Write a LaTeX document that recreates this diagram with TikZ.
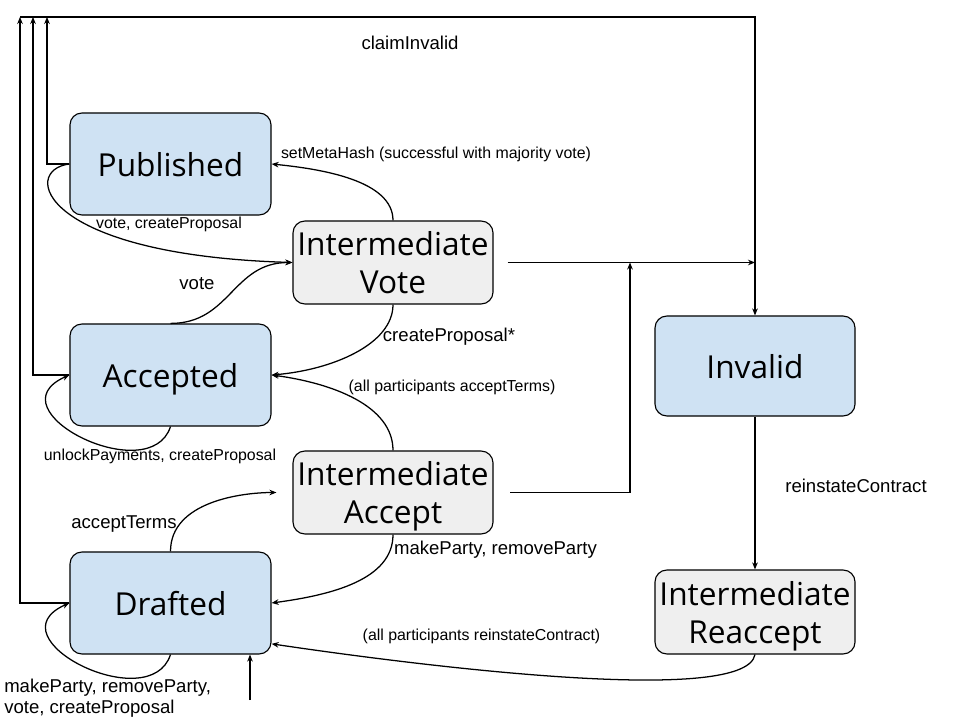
\documentclass[tikz,border=0pt]{standalone}
\usepackage{fontspec}
\setmainfont{Liberation Sans}
\newfontfamily\statefont{Open Sans}
\usetikzlibrary{calc}
\usetikzlibrary{arrows.meta}
\definecolor{stateblue}{HTML}{CFE2F3}
\definecolor{intergray}{HTML}{EFEFEF}
\tikzset{
    statebox/.style={draw, line width=0.8pt, rounded corners=0.3cm, fill=stateblue,
        minimum width=5.025cm, minimum height=2.55cm, inner sep=0pt, text depth=0pt,
        align=center, font=\statefont\fontsize{22.5}{27}\selectfont},
    interbox/.style={statebox, fill=intergray, minimum width=5cm, minimum height=2.075cm},
    trans/.style={line width=0.9pt, -{Stealth[length=5pt,width=4pt]}},
    biglbl/.style={inner sep=0pt, font=\fontsize{13.2}{15}\selectfont},
    smalllbl/.style={inner sep=0pt, font=\fontsize{11.3}{14}\selectfont},
}

\begin{document}
\begin{tikzpicture}[x=0.025cm,y=-0.025cm]
            \useasboundingbox (0,0) rectangle (960,720);

            \node[statebox] (published) at (170.5,164) {Published};
            \node[interbox] (ivote) at (393,262.5) {Intermediate\\Vote};
            \node[statebox] (accepted) at (170.5,375) {Accepted};
            \node[interbox] (iaccept) at (393,492.5) {Intermediate\\Accept};
            \node[statebox] (drafted) at (170.5,603) {Drafted};
            \node[statebox, minimum width=5cm, minimum height=2.5cm] (invalid) at (755,366) {Invalid};
            \node[interbox, minimum height=2.1cm] (ireaccept) at (755,612) {Intermediate\\Reaccept};

            \coordinate (topD) at (20,17);
            \coordinate (topA) at (33,17);
            \coordinate (topP) at (47,17);
            \coordinate (topR) at (invalid.north |- topD);
            \coordinate (jv) at (invalid.north |- ivote.east);
            \coordinate (jup) at (630,262.5);
            \coordinate (init) at (250,700);

            \draw[trans] (drafted.west) -| (topD);
            \draw[trans] (accepted.west) -| (topA);
            \draw[trans] (published.west) -| (topP);
            \draw[trans] (topD) -- (topR) -- (invalid.north);
            \node[biglbl] (lblClaim) at (410,43) {claimInvalid};

            \draw[trans] (published.west) .. controls (20,170) and (40,255) .. (ivote.west);
            \node[smalllbl] (lblPubLoop) at (169,224) {vote, createProposal};

            \draw[trans] (ivote.north) .. controls +(0,-40) and +(50,5) .. (published.east);
            \node[smalllbl] (lblMeta) at (436,154) {setMetaHash (successful with majority vote)};

            \draw[trans] (accepted.north) .. controls +(60,0) and +(-60,0) .. (ivote.west);
            \node[biglbl] (lblVote) at (197,284) {vote};

            \draw[trans] (ivote.south) .. controls +(0,40) and +(60,-5) .. (accepted.east);
            \node[biglbl] (lblCreate) at (449,337) {createProposal*};

            \draw[trans] (iaccept.north) .. controls +(0,-45) and +(60,8) .. (accepted.east);
            \node[smalllbl] (lblAllAccept) at (452,387) {(all participants acceptTerms)};

            \draw[trans] (accepted.south) .. controls (150,490) and (-10,410) .. (accepted.west);
            \node[smalllbl] (lblAccLoop) at (160,456) {unlockPayments, createProposal};

            \draw[trans, shorten <=0.35cm] (ivote.east) -- (jv);
            \draw[trans, shorten <=0.42cm] (iaccept.east) -| (jup);

            \draw[trans, shorten >=0.4cm] (drafted.north) .. controls +(0,-50) and +(-50,0) .. (iaccept.west);
            \node[biglbl] (lblAcceptTerms) at (124,524) {acceptTerms};

            \draw[trans] (iaccept.south) .. controls +(0,45) and +(60,-8) .. (drafted.east);
            \node[biglbl] (lblParty) at (495.5,550) {makeParty, removeParty};

            \draw[trans] (drafted.south) .. controls (150,718) and (-10,638) .. (drafted.west);
            \node[biglbl, align=left, anchor=west] (lblDraftLoop) at (4,698) {makeParty, removeParty,\\vote, createProposal};

            \draw[trans] (invalid.south) -- (ireaccept.north);
            \node[biglbl] (lblReinstate) at (856,486) {reinstateContract};

            \draw[trans] (ireaccept.south) .. controls (745,710) and (380,660) .. (drafted.-22);
            \node[smalllbl] (lblAllReinstate) at (481.5,636) {(all participants reinstateContract)};

            \draw[trans] (init) -- (init |- drafted.south);
\end{tikzpicture}
\end{document}
